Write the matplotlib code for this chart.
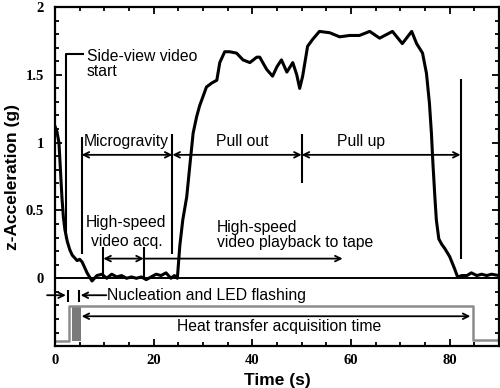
import matplotlib
matplotlib.use('Agg')
from matplotlib import pyplot as plt
from matplotlib.ticker import MultipleLocator

# Dados da aceleração
tempo = [0, 0.4, 0.8, 1.1, 1.4, 1.7, 2.0, 2.5, 3.0, 3.5, 4.0, 4.5, 5.0, 5.5, 6.0, 6.5,
         7.0, 7.5, 8.0, 8.5, 9.5, 10.5, 11.5, 12.5, 13.5, 14.5, 15.5, 16.5, 17.5, 18.5,
         19.5, 20.5, 21.5, 22.5, 23.5, 24.2, 24.8, 25.3, 25.9, 26.7, 27.3, 28.0, 28.7,
         29.3, 30.0, 30.7, 31.8, 32.8, 33.4, 34.4, 35.4, 36.8, 38.1, 39.5, 40.9, 41.5,
         42.9, 44.1, 45.0, 45.9, 47.0, 48.2, 49.0, 49.6, 50.2, 51.2, 52.2, 53.6, 55.7,
         57.7, 59.7, 61.7, 63.8, 65.8, 68.4, 70.4, 72.3, 73.3, 74.5, 75.3, 75.9, 76.3,
         76.6, 77.0, 77.3, 77.8, 78.4, 79.0, 80.0, 81.0, 81.6, 82.5, 83.5, 84.4, 85.5,
         86.5, 87.5, 88.5, 90]
acel = [1.12, 1.08, 1.00, 0.80, 0.60, 0.45, 0.36, 0.27, 0.21, 0.17, 0.15, 0.13, 0.14,
        0.12, 0.08, 0.04, 0.01, -0.02, 0.0, 0.02, 0.03, 0.0, 0.03, 0.01, 0.02, 0.0, 0.01,
        0.0, 0.01, -0.01, 0.01, 0.03, 0.02, 0.04, 0.0, 0.02, 0.0, 0.24, 0.43, 0.60, 0.82,
        1.07, 1.19, 1.27, 1.34, 1.41, 1.44, 1.46, 1.59, 1.67, 1.67, 1.66, 1.61, 1.59,
        1.63, 1.63, 1.54, 1.49, 1.56, 1.61, 1.52, 1.59, 1.50, 1.40, 1.49, 1.71, 1.76,
        1.82, 1.81, 1.78, 1.79, 1.79, 1.82, 1.77, 1.82, 1.73, 1.82, 1.73, 1.66, 1.51,
        1.29, 1.07, 0.85, 0.60, 0.43, 0.29, 0.25, 0.22, 0.16, 0.07, 0.01, 0.02, 0.02,
        0.04, 0.02, 0.03, 0.02, 0.03, 0.02]

# Linha cinza - aquisição de transferência de calor
aquis_t = [0, 2.9, 2.9, 84.7, 84.7, 90]
aquis_y = [-0.46, -0.46, -0.205, -0.205, -0.455, -0.455]
flash_t = [3.4, 5.2]

fonte = 'Liberation Sans'
fs = 11.3

fig = plt.figure(figsize=(5, 3.88), dpi=100)
ax = fig.add_axes([0.11, 0.108, 0.888, 0.874])

ax.plot(tempo, acel, color='black', lw=2.2, zorder=5)
ax.axhline(0, color='black', lw=1.4)

# Linha cinza e bloco de flash
ax.plot(aquis_t, aquis_y, color='#8c8c8c', lw=1.8)
ax.fill_between(flash_t, -0.46, -0.205, color='#7a7a7a', lw=0)


def seta(x1, x2, y, estilo='<->'):
    ax.annotate('', xy=(x2, y), xytext=(x1, y),
                arrowprops=dict(arrowstyle=estilo, lw=1.3, color='black',
                                shrinkA=0, shrinkB=0, mutation_scale=10),
                annotation_clip=False)


# Side-view video start
ax.plot([2.2, 2.2, 5.7], [0.3, 1.65, 1.65], color='black', lw=1.5)
ax.text(6.4, 1.635, 'Side-view video', fontsize=fs, family=fonte, va='center')
ax.text(6.4, 1.525, 'start', fontsize=fs, family=fonte, va='center')

# Microgravity / Pull out / Pull up
ax.vlines(5.4, 0.18, 1.04, color='black', lw=1.5)
ax.vlines(23.8, 0.18, 1.06, color='black', lw=1.5)
ax.vlines(50.0, 0.70, 1.06, color='black', lw=1.5)
ax.vlines(82.2, 0.14, 1.47, color='black', lw=1.5)
seta(5.4, 23.8, 0.91)
seta(23.8, 50.0, 0.91)
seta(50.0, 82.2, 0.91)
ax.text(14.5, 1.01, 'Microgravity', fontsize=fs, family=fonte, ha='center', va='center')
ax.text(37.9, 1.01, 'Pull out', fontsize=fs, family=fonte, ha='center', va='center')
ax.text(62.1, 1.01, 'Pull up', fontsize=fs, family=fonte, ha='center', va='center')

# High-speed video
ax.vlines([9.8, 18.0], 0, 0.23, color='black', lw=1.5)
seta(9.8, 18.0, 0.145)
seta(18.0, 58.3, 0.145, '->')
ax.text(14.3, 0.41, 'High-speed', fontsize=fs, family=fonte, ha='center', va='center')
ax.text(14.6, 0.27, 'video acq.', fontsize=fs, family=fonte, ha='center', va='center')
ax.text(32.8, 0.375, 'High-speed', fontsize=fs, family=fonte, va='center')
ax.text(32.8, 0.265, 'video playback to tape', fontsize=fs, family=fonte, va='center')

# Nucleation and LED flashing
seta(-1.6, 2.2, -0.125, '->')
ax.vlines([2.7, 4.9], -0.086, -0.174, color='black', lw=1.5)
seta(10.4, 5.2, -0.125, '->')
ax.text(10.6, -0.125, 'Nucleation and LED flashing', fontsize=fs, family=fonte, va='center')

# Heat transfer acquisition time
seta(5.4, 84.2, -0.28)
ax.text(45.4, -0.355, 'Heat transfer acquisition time', fontsize=fs, family=fonte,
        ha='center', va='center')

ax.set_xlim(0, 90)
ax.set_ylim(-0.5, 2)
ax.set_xticks([0, 20, 40, 60, 80])
ax.set_yticks([0, 0.5, 1, 1.5, 2])
ax.set_yticklabels(['0', '0.5', '1', '1.5', '2'])
ax.xaxis.set_minor_locator(MultipleLocator(5))
ax.yaxis.set_minor_locator(MultipleLocator(0.1))
ax.tick_params(which='both', direction='in', top=True, right=True, width=1.3)
ax.tick_params(which='major', length=5)
ax.tick_params(which='minor', length=3)
ax.tick_params(axis='x', pad=6)
ax.tick_params(axis='y', pad=8)
for lab in ax.get_xticklabels() + ax.get_yticklabels():
    lab.set_fontfamily('Liberation Serif')
    lab.set_fontweight('bold')
    lab.set_fontsize(10.5)
for s in ax.spines.values():
    s.set_linewidth(1.6)

ax.set_xlabel('Time (s)', fontsize=12.5, fontweight='bold', family=fonte, labelpad=4)
ax.set_ylabel('z-Acceleration (g)', fontsize=12.5, fontweight='bold', family=fonte, labelpad=4)

fig.savefig('out.png', dpi=100)
